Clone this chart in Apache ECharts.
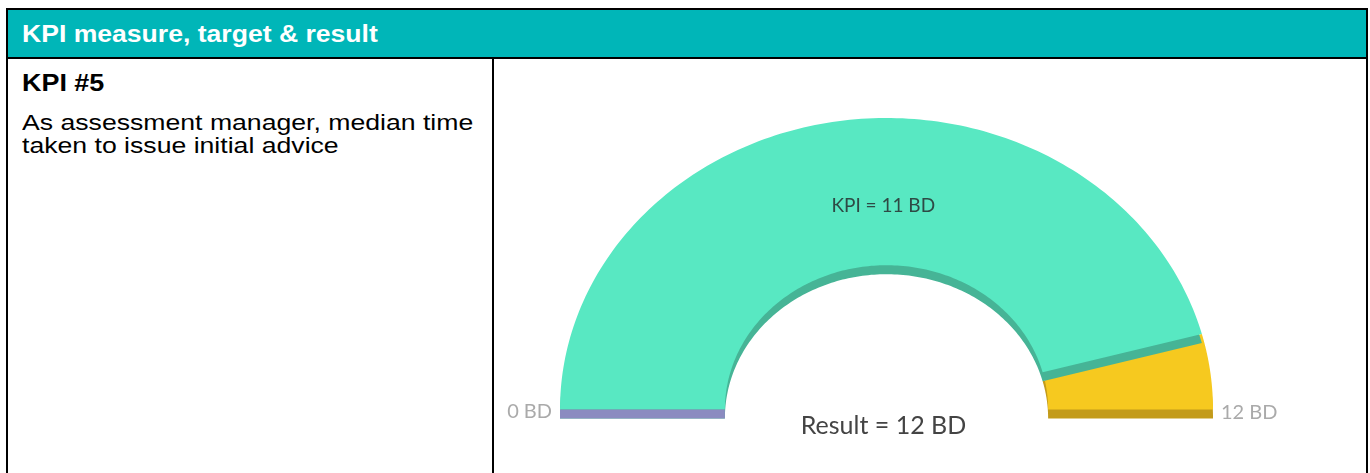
<!DOCTYPE html>
<html>
<head>
<meta charset="utf-8">
<script src="https://cdn.jsdelivr.net/npm/echarts@6/dist/echarts.min.js"></script>
<style>
  html, body { margin: 0; padding: 0; background: #fff; width: 1370px; height: 473px; overflow: hidden; }
  .abs { position: absolute; }
  #frame { left: 6px; top: 8px; width: 1358px; height: 470px; border: 2px solid #000; border-bottom: none; }
  #header { left: 8px; top: 10px; width: 1358px; height: 47px; background: #00B6B8; border-bottom: 2px solid #000; }
  #divider { left: 492px; top: 59px; width: 2px; height: 414px; background: #000; }
  .txt { font-family: "Liberation Sans", Arial, sans-serif; white-space: nowrap; transform-origin: 0 0; }
  #htitle { left: 22px; top: 21px; font-size: 23px; font-weight: bold; color: #fff; line-height: 26px; transform: scaleX(1.155); }
  #kpi { left: 22px; top: 70px; font-size: 23px; font-weight: bold; color: #000; line-height: 26px; transform: scaleX(1.17); }
  #desc { left: 22px; top: 111px; font-size: 22px; color: #000; line-height: 23px; transform: scaleX(1.21); }
  #chart { left: 494px; top: 59px; width: 872px; height: 414px; }
</style>
</head>
<body>
<div id="frame" class="abs"></div>
<div id="header" class="abs"></div>
<div id="divider" class="abs"></div>
<div id="htitle" class="abs txt">KPI measure, target &amp; result</div>
<div id="kpi" class="abs txt">KPI #5</div>
<div id="desc" class="abs txt">As assessment manager, median time<br>taken to issue initial advice</div>
<div id="chart" class="abs"></div>
<script>
// ---- data ----
const categories = ['KPI', 'Result beyond KPI'];
const segmentValues = [11, 1];
const scaleMin = 0;
const scaleMax = 12;
const tickLabels = ['0 BD', '12 BD'];
const kpiLabel = 'KPI = 11 BD';
const resultLabel = 'Result = 12 BD';

// ---- styling ----
const topColors = ['#58E8C2', '#F6C91F'];
const sideColors = ['#46B496', '#C39B1A'];
const baseStripColor = '#8B8BC0';
const INNER = 0.495;
const DEPTH = 9;

// cumulative ranges
const ranges = [];
let acc = scaleMin;
segmentValues.forEach(function (v, i) { ranges.push([acc, acc + v, i]); acc += v; });

function renderItem(params, api) {
  const i = params.dataIndex;
  const s = api.value(0), e = api.value(1);
  const span = scaleMax - scaleMin;
  const a0 = Math.PI * (1 - (s - scaleMin) / span);
  const a1 = Math.PI * (1 - (e - scaleMin) / span);
  const n = 160;
  const pts = [];
  for (let k = 0; k <= n; k++) {
    const t = a0 + (a1 - a0) * k / n;
    pts.push(api.coord([Math.cos(t), Math.sin(t)]));
  }
  for (let k = n; k >= 0; k--) {
    const t = a0 + (a1 - a0) * k / n;
    pts.push(api.coord([INNER * Math.cos(t), INNER * Math.sin(t)]));
  }
  const side = pts.map(function (p) { return [p[0], p[1] + DEPTH]; });
  const zBase = i === 0 ? 10 : 0;
  const children = [
    { type: 'polygon', z2: zBase + 1, shape: { points: side }, style: { fill: sideColors[i] } },
    { type: 'polygon', z2: zBase + 2, shape: { points: pts }, style: { fill: topColors[i] } }
  ];
  if (i === 0) {
    const pL = api.coord([-1, 0]);
    const pLi = api.coord([-INNER, 0]);
    children.push({ type: 'rect', z2: zBase + 3, shape: { x: pL[0], y: pL[1], width: pLi[0] - pL[0], height: DEPTH }, style: { fill: baseStripColor } });
    const pK = api.coord([-0.01, 0.70]);
    children.push({ type: 'text', z2: 30, x: pK[0], y: pK[1], style: { text: kpiLabel, fill: '#2E4A45', font: '19px Lato', align: 'center', verticalAlign: 'middle' } });
    const pR = api.coord([1, 0]);
    children.push({ type: 'text', z2: 30, x: pL[0] - 8, y: pL[1] + 2, style: { text: tickLabels[0], fill: '#AAAAAA', font: '20px Lato', align: 'right', verticalAlign: 'middle' } });
    children.push({ type: 'text', z2: 30, x: pR[0] + 8, y: pR[1] + 3, style: { text: tickLabels[1], fill: '#AAAAAA', font: '20px Lato', align: 'left', verticalAlign: 'middle' } });
    const pC = api.coord([0, 0]);
    children.push({ type: 'text', z2: 30, x: pC[0] - 3, y: pC[1] + 16, style: { text: resultLabel, fill: '#444444', font: '25px Lato', align: 'center', verticalAlign: 'middle' } });
  }
  return { type: 'group', children: children };
}

const chart = echarts.init(document.getElementById('chart'), null, { renderer: 'canvas' });
chart.setOption({
  animation: false,
  grid: { left: 66, top: 59, width: 653, height: 291.5 },
  xAxis: { type: 'value', min: -1, max: 1, show: false },
  yAxis: { type: 'value', min: 0, max: 1, show: false },
  series: [{
    type: 'custom',
    name: 'KPI gauge',
    coordinateSystem: 'cartesian2d',
    clip: false,
    renderItem: renderItem,
    encode: { x: -1, y: -1 },
    data: ranges.map(function (r, i) { return { name: categories[i], value: r }; })
  }]
});
</script>
</body>
</html>
